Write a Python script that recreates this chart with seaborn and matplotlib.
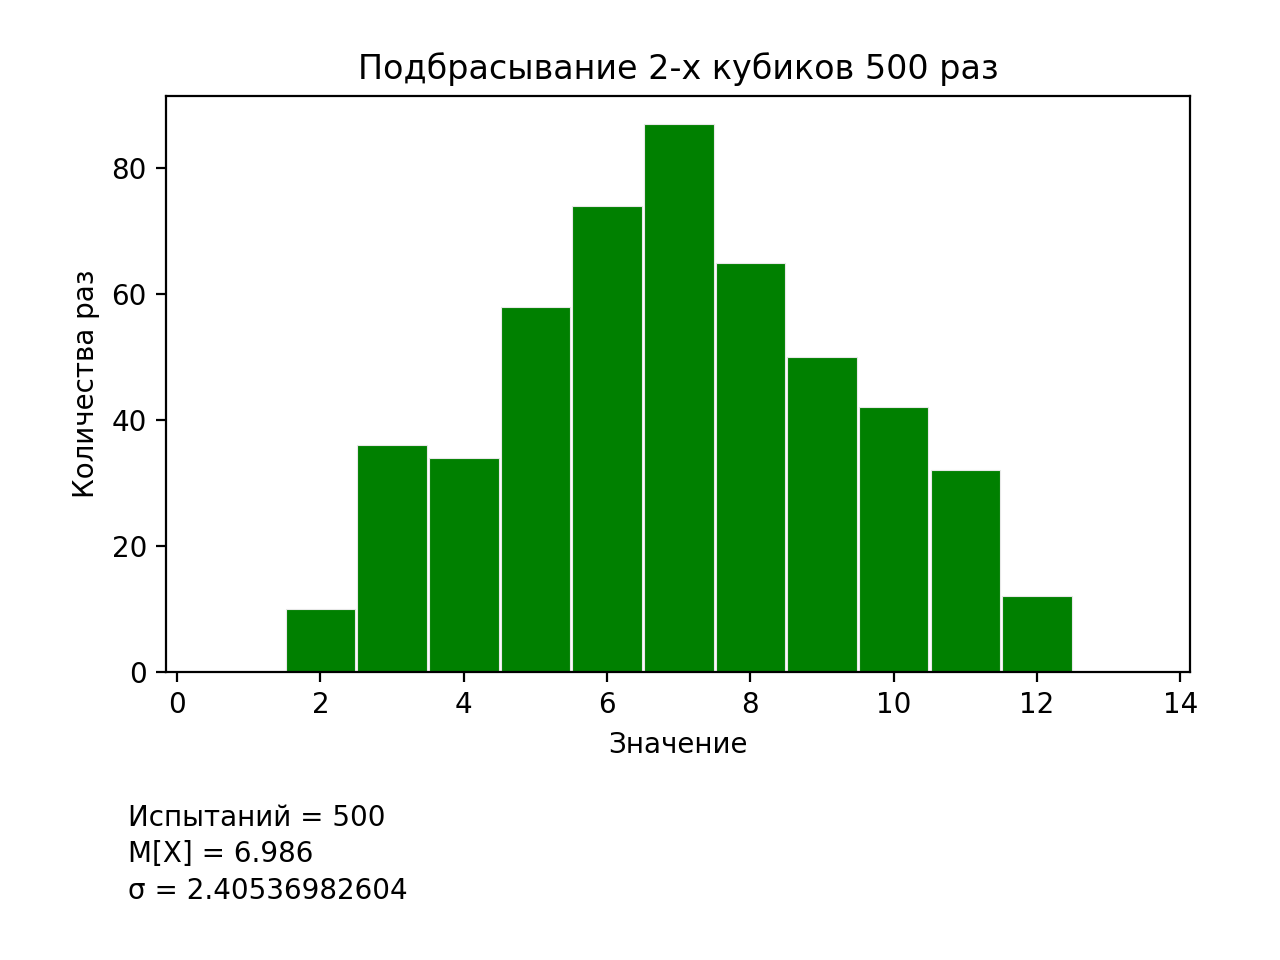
import matplotlib
matplotlib.use("Agg")
import matplotlib.pyplot as plt
import seaborn as sns
import pandas as pd

# сумма очков двух кубиков и сколько раз выпала
values = [2, 3, 4, 5, 6, 7, 8, 9, 10, 11, 12]
counts = [10, 36, 34, 58, 74, 87, 65, 50, 42, 32, 12]
n_trials = 500
mean_x = 6.986
sigma = "2.40536982604"

df = pd.DataFrame({"value": values, "count": counts})

fig = plt.figure(figsize=(6.4, 4.8), dpi=200)
ax = fig.add_axes([0.13, 0.3, 0.8, 0.6])

sns.histplot(
    data=df,
    x="value",
    weights="count",
    discrete=True,
    shrink=0.97,
    color="green",
    alpha=1.0,
    edgecolor="#e8e8e8",
    linewidth=0.4,
    ax=ax,
)

ax.set_xlim(-0.15, 14.14)
ax.set_ylim(0, 91.45)
ax.set_title("Подбрасывание 2-х кубиков 500 раз")
ax.set_xlabel("Значение")
ax.set_ylabel("Количества раз")

fig.text(0.1, 0.057,
         f"Испытаний = {n_trials}\nM[X] = {mean_x}\nσ = {sigma}",
         va="bottom", ha="left", linespacing=1.4)

fig.savefig("out.png", dpi=200)
